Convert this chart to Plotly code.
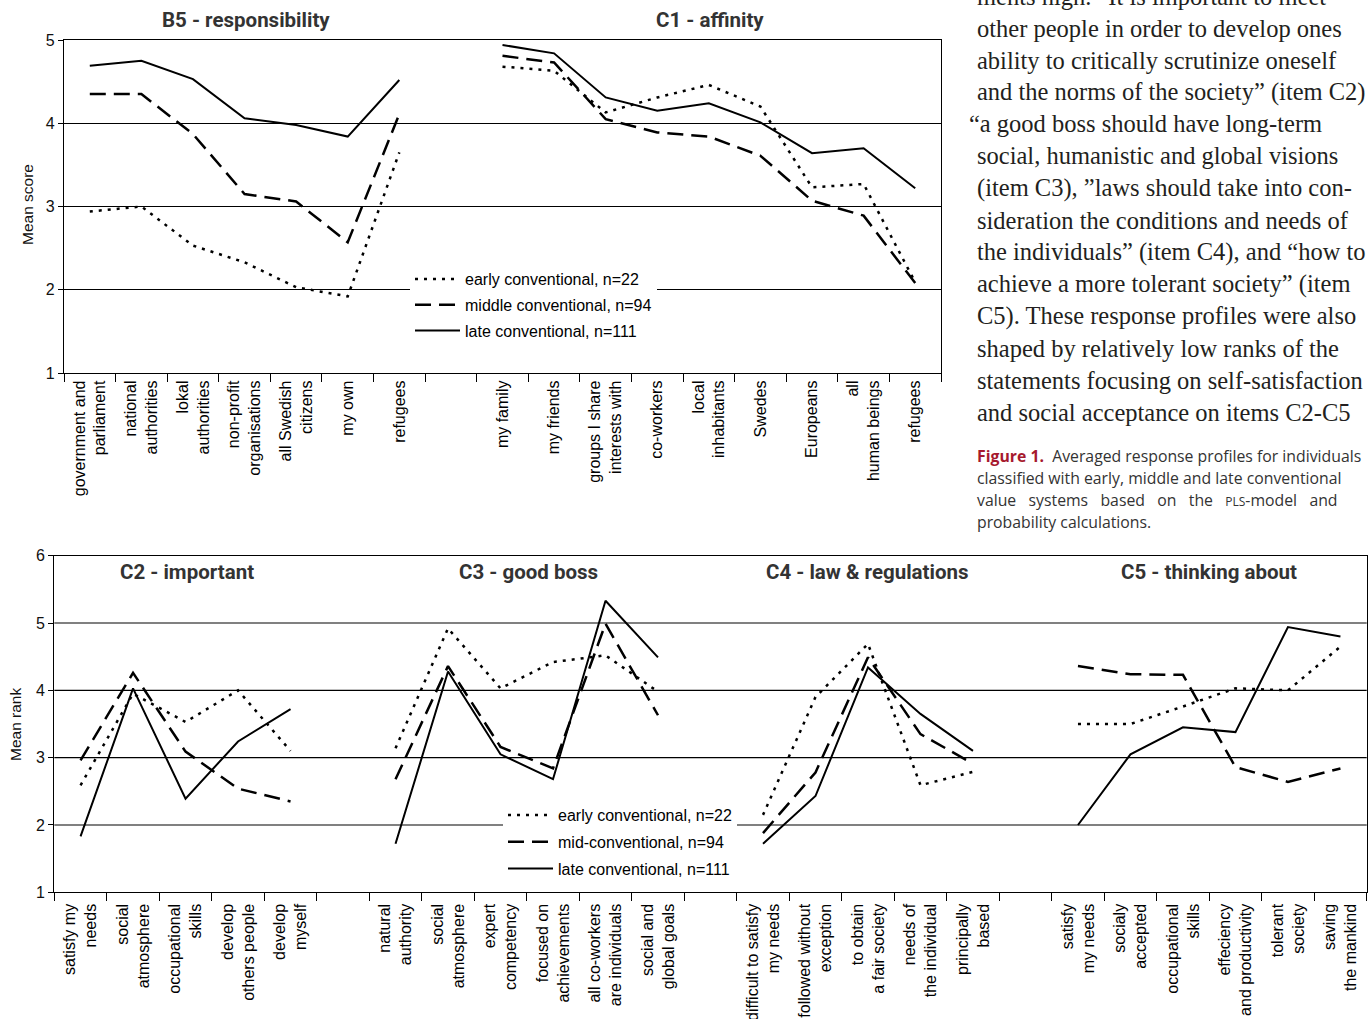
import plotly.graph_objects as go

W, H = 1371, 1019
ZW = "\u200b"

# ---------------- data: top panel ----------------
b5_cats = ["government and<br>parliament", "national<br>authorities", "lokal<br>authorities",
           "non-profit<br>organisations", "all Swedish<br>citizens", "my own", "refugees"]
c1_cats = ["my family", "my friends", "groups I share<br>interests with", "co-workers",
           "local<br>inhabitants", "Swedes", "Europeans", "all<br>human beings", "refugees" + ZW]
top_gap = [" "]

b5_early = [2.94, 3.00, 2.53, 2.33, 2.03, 1.92, 3.65]
b5_middle = [4.35, 4.35, 3.87, 3.15, 3.06, 2.57, 4.11]
b5_late = [4.69, 4.75, 4.53, 4.06, 3.98, 3.84, 4.52]

c1_early = [4.68, 4.63, 4.13, 4.31, 4.46, 4.20, 3.23, 3.27, 2.09]
c1_middle = [4.81, 4.73, 4.05, 3.89, 3.84, 3.61, 3.07, 2.89, 2.08]
c1_late = [4.94, 4.84, 4.31, 4.15, 4.24, 4.01, 3.64, 3.70, 3.22]

# ---------------- data: bottom panel ----------------
c2_cats = ["satisfy my<br>needs", "social<br>atmosphere", "occupational<br>skills",
           "develop<br>others people", "develop<br>myself"]
c3_cats = ["natural<br>authority", "social<br>atmosphere" + ZW, "expert<br>competency",
           "focused on<br>achievements", "all co-workers<br>are individuals", "social and<br>global goals"]
c4_cats = ["difficult to satisfy<br>my needs", "followed without<br>exception", "to obtain<br>a fair society",
           "needs of<br>the individual", "principally<br>based"]
c5_cats = ["satisfy<br>my needs", "socialy<br>accepted", "occupational<br>skills" + ZW,
           "effeciency<br>and productivity", "tolerant<br>society", "saving<br>the mankind"]

c2_early = [2.59, 3.95, 3.53, 4.00, 3.10]
c2_mid = [2.96, 4.26, 3.09, 2.54, 2.35]
c2_late = [1.83, 4.03, 2.39, 3.24, 3.72]

c3_early = [3.14, 4.92, 4.03, 4.42, 4.52, 3.98]
c3_mid = [2.68, 4.36, 3.16, 2.84, 4.99, 3.63]
c3_late = [1.72, 4.28, 3.05, 2.68, 5.33, 4.49]

c4_early = [2.15, 3.90, 4.69, 2.59, 2.79]
c4_mid = [1.88, 2.78, 4.49, 3.35, 2.91]
c4_late = [1.72, 2.43, 4.34, 3.65, 3.10]

c5_early = [3.50, 3.50, 3.76, 4.03, 4.00, 4.65]
c5_mid = [4.36, 4.24, 4.23, 2.86, 2.64, 2.84]
c5_late = [2.00, 3.05, 3.45, 3.38, 4.94, 4.80]

top_names = ["early conventional, n=22", "middle conventional, n=94", "late conventional, n=111"]
bot_names = ["early conventional, n=22", "mid-conventional, n=94", "late conventional, n=111"]

top_categories = b5_cats + top_gap + c1_cats
bot_categories = c2_cats + ["  "] + c3_cats + ["   "] + c4_cats + ["    "] + c5_cats

# ---------------- styles ----------------
styles = [dict(color="black", width=2.5, dash="3px,6px"),
          dict(color="black", width=2.5, dash="16px,8px"),
          dict(color="black", width=2, dash="solid")]
groups = ["g_early", "g_mid", "g_late"]

fig = go.Figure()


def add_panel(cats, series, names, xa, ya, legend, show, tag):
    for vals, st, nm, g in zip(series, styles, names, groups):
        fig.add_trace(go.Scatter(x=cats, y=vals, mode="lines", line=st, name=nm,
                                 xaxis=xa, yaxis=ya, legend=legend, showlegend=show,
                                 legendgroup=tag + g, hoverinfo="skip"))


add_panel(b5_cats, [b5_early, b5_middle, b5_late], top_names, "x", "y", "legend", True, "t")
add_panel(c1_cats, [c1_early, c1_middle, c1_late], top_names, "x", "y", "legend", False, "t")
add_panel(c2_cats, [c2_early, c2_mid, c2_late], bot_names, "x2", "y2", "legend2", True, "b")
add_panel(c3_cats, [c3_early, c3_mid, c3_late], bot_names, "x2", "y2", "legend2", False, "b")
add_panel(c4_cats, [c4_early, c4_mid, c4_late], bot_names, "x2", "y2", "legend2", False, "b")
add_panel(c5_cats, [c5_early, c5_mid, c5_late], bot_names, "x2", "y2", "legend2", False, "b")


def px(xp):
    return xp / W


def py(yp):
    return 1 - yp / H


tickfont = dict(family="Liberation Sans, Arial, sans-serif", size=16, color="black")
axfont = dict(family="Liberation Sans, Arial, sans-serif", size=16, color="#111")
legfont = dict(family="Liberation Sans, Arial, sans-serif", size=16, color="black")

xcommon = dict(type="category", categoryorder="array", tickson="boundaries", ticks="outside",
               ticklen=8, tickcolor="black", showline=True, linecolor="black", linewidth=1.3,
               mirror=True, showgrid=False, zeroline=False, tickangle=-90, tickfont=tickfont,
               automargin=False, fixedrange=True)

fig.update_layout(
    width=W, height=H, margin=dict(l=0, r=0, t=0, b=0),
    paper_bgcolor="white", plot_bgcolor="white", template="none",
    xaxis=dict(xcommon, domain=[px(64), px(941)], anchor="y",
               categoryarray=top_categories, range=[-0.5, len(top_categories) - 0.5]),
    yaxis=dict(domain=[py(373), py(40)], range=[1, 5], tickvals=[1, 2, 3, 4, 5],
               ticks="outside", ticklen=5, tickcolor="black", showline=True, linecolor="black",
               linewidth=1.3, mirror=True, showgrid=True, gridcolor="black", gridwidth=1,
               zeroline=False, tickfont=axfont, anchor="x", automargin=False),
    xaxis2=dict(xcommon, domain=[px(54.3), px(1366.7)], anchor="y2", ticklabelstandoff=4,
                categoryarray=bot_categories, range=[-0.5, len(bot_categories) - 0.5]),
    yaxis2=dict(domain=[py(892.3), py(555.7)], range=[1, 6], tickvals=[1, 2, 3, 4, 5, 6],
                ticks="outside", ticklen=5, tickcolor="black", showline=True, linecolor="black",
                linewidth=1.3, mirror=True, showgrid=False,
                zeroline=False, tickfont=axfont, anchor="x2", automargin=False),
    legend=dict(x=px(410), y=py(262), xanchor="left", yanchor="top", bgcolor="white",
                borderwidth=0, font=legfont, traceorder="grouped", tracegroupgap=2,
                itemwidth=45),
    legend2=dict(x=px(503), y=py(798), xanchor="left", yanchor="top", bgcolor="white",
                 borderwidth=0, font=legfont, traceorder="grouped", tracegroupgap=3,
                 itemwidth=45),
)

# bottom-panel gridlines: grey at 2 and 5, black at 3 and 4
for v, col, wd in [(2, "#808080", 2), (5, "#808080", 2), (3, "black", 1.2), (4, "black", 1.2)]:
    fig.add_shape(type="line", xref="x2 domain", yref="y2", x0=0, x1=1, y0=v, y1=v,
                  line=dict(color=col, width=wd), layer="below")

titlefont = dict(family="Roboto, sans-serif", size=20.5, color="#333")
panel_titles = [("<b>B5 - responsibility</b>", 246, 20), ("<b>C1 - affinity</b>", 710, 20),
                ("<b>C2 - important</b>", 187, 572), ("<b>C3 - good boss</b>", 528, 572),
                ("<b>C4 - law &amp; regulations</b>", 868, 572), ("<b>C5 - thinking about</b>", 1209, 572)]
for t, xx, yy in panel_titles:
    fig.add_annotation(text=t, x=px(xx), y=py(yy), xref="paper", yref="paper",
                       xanchor="center", yanchor="middle", showarrow=False, font=titlefont)

fig.add_annotation(text="Mean score", x=px(27), y=py(205), xref="paper", yref="paper",
                   textangle=-90, showarrow=False, font=dict(axfont, size=15.5),
                   xanchor="center", yanchor="middle")
fig.add_annotation(text="Mean rank", x=px(15), y=py(725), xref="paper", yref="paper",
                   textangle=-90, showarrow=False, font=dict(axfont, size=15.5),
                   xanchor="center", yanchor="middle")

# body text on the right
body = [
    ("ments high. “It is important to meet", 975, -3),
    ("other people in order to develop ones", 975, 28),
    ("ability to critically scrutinize oneself", 975, 60),
    ("and the norms of the society” (item C2)", 975, 92),
    ("“a good boss should have long-term", 967, 124),
    ("social, humanistic and global visions", 975, 156),
    ("(item C3), ”laws should take into con-", 975, 188),
    ("sideration the conditions and needs of", 975, 220),
    ("the individuals” (item C4), and “how to", 975, 252),
    ("achieve a more tolerant society” (item", 975, 284),
    ("C5). These response profiles were also", 975, 316),
    ("shaped by relatively low ranks of the", 975, 348),
    ("statements focusing on self-satisfaction", 975, 380),
    ("and social acceptance on items C2-C5", 975, 412),
]
bodyfont = dict(family="Liberation Serif, DejaVu Serif, serif", size=24.5, color="#231f20")
for t, xx, yy in body:
    fig.add_annotation(text=t, x=px(xx), y=py(yy), xref="paper", yref="paper",
                       xanchor="left", yanchor="middle", showarrow=False, font=bodyfont)

capfont = dict(family="Open Sans, Lato, sans-serif", size=15.8, color="#333")
caption = [
    ("<b><span style='color:#a6192e'>Figure 1.</span></b>  Averaged response profiles for individuals", 456),
    ("classified with early, middle and late conventional", 478),
    ("value   systems   based   on   the   <span style='font-size:12px'>PLS</span>-model   and", 500),
    ("probability calculations.", 522),
]
for t, yy in caption:
    fig.add_annotation(text=t, x=px(975), y=py(yy), xref="paper", yref="paper",
                       xanchor="left", yanchor="middle", showarrow=False, font=capfont)

fig.write_html("out.html")
